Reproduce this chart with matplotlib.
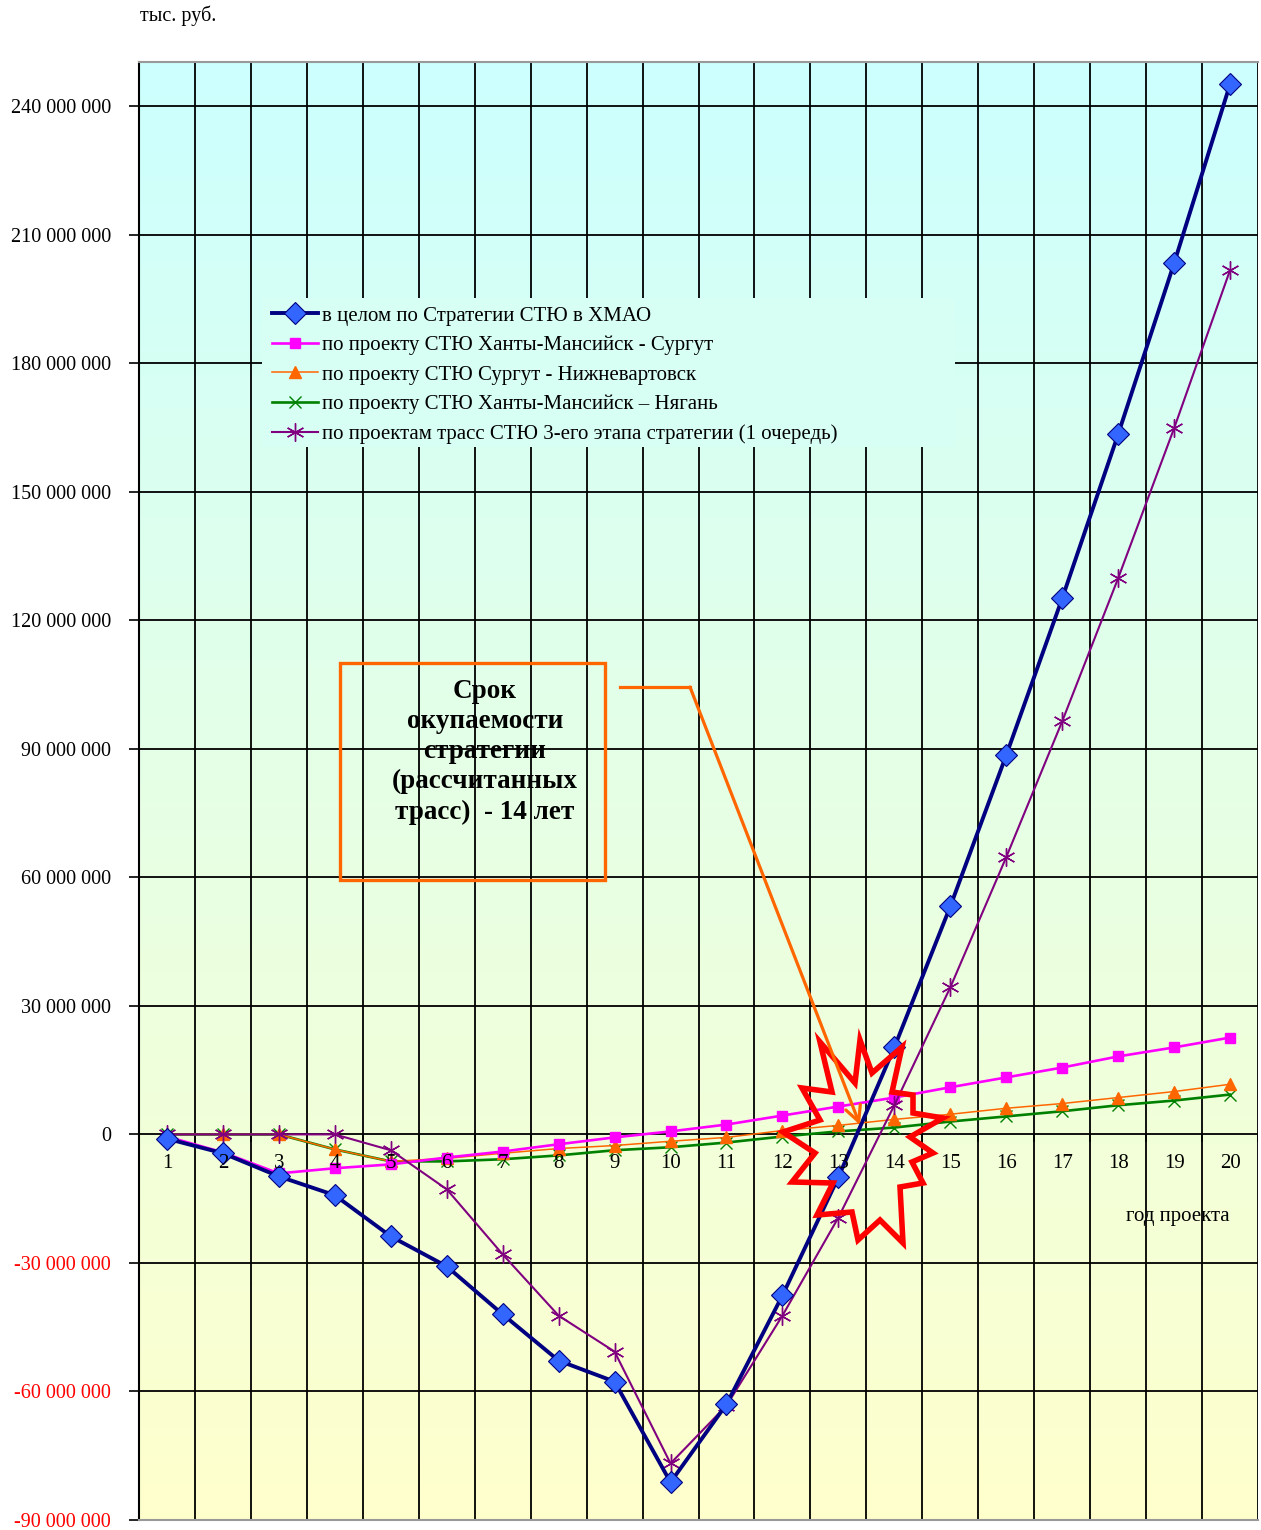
import matplotlib.pyplot as plt
import numpy as np
from matplotlib.patches import Rectangle, Polygon

plt.rcParams['font.family'] = ['Liberation Serif', 'DejaVu Serif']

years = list(range(1, 21))

# накопленный денежный поток, млн (тыс. руб. / 1e6 на оси)
total = [-1.0, -4.4, -9.8, -14.2, -23.8, -30.8, -42.0, -52.8, -57.7, -81.2,
         -63.0, -37.6, -10.0, 20.3, 53.2, 88.5, 125.1, 163.4, 203.3, 245.1]
hm_surgut = [-0.5, -4.2, -9.1, -7.9, -7.0, -5.4, -4.0, -2.3, -0.7, 0.7,
             2.3, 4.4, 6.5, 8.6, 11.0, 13.3, 15.6, 18.2, 20.3, 22.6]
surgut_nv = [0.0, 0.0, 0.0, -3.5, -6.3, -5.6, -4.4, -3.3, -2.6, -1.6,
             -0.7, 0.9, 2.1, 3.5, 4.7, 6.1, 7.2, 8.6, 10.0, 11.7]
hm_nyagan = [0.0, 0.0, 0.0, -3.5, -6.3, -6.3, -5.8, -4.9, -3.7, -3.0,
             -1.9, -0.5, 0.7, 1.6, 3.0, 4.2, 5.4, 6.8, 7.9, 9.3]
stage3 = [0.0, 0.0, 0.0, 0.0, -3.7, -12.8, -28.0, -42.3, -50.7, -76.8,
          -63.3, -42.3, -19.4, 6.8, 34.3, 64.7, 96.4, 129.8, 164.8, 201.7]

labels = ['в целом по Стратегии СТЮ в ХМАО',
          'по проекту СТЮ Ханты-Мансийск - Сургут',
          'по проекту СТЮ Сургут - Нижневартовск',
          'по проекту СТЮ Ханты-Мансийск – Нягань',
          'по проектам трасс СТЮ 3-его этапа стратегии (1 очередь)']

y_ticks = [-90, -60, -30, 0, 30, 60, 90, 120, 150, 180, 210, 240]

# figure in pixels, plot area box
W, H = 1261, 1530
L, R, T, B = 139, 1258, 62, 1520

fig = plt.figure(figsize=(W / 100, H / 100), dpi=100)
ax = fig.add_axes([L / W, (H - B) / H, (R - L) / W, (B - T) / H])


def frac(px, py):
    return (px - L) / (R - L), (B - py) / (B - T)


# background: cyan at top fading to pale yellow at the bottom
top_c = np.array([204, 255, 255]) / 255
bot_c = np.array([255, 255, 204]) / 255
t = np.linspace(0, 1, 256)[:, None]
grad = (top_c * (1 - t) + bot_c * t)[:, None, :]
ax.imshow(grad, extent=(0, 1, 0, 1), transform=ax.transAxes,
          aspect='auto', zorder=0)

M = 1e6
ax.plot(years, np.array(total) * M, color='#000080', lw=2.8, marker='D',
        ms=11, mfc='#3366FF', mec='#000080', mew=0.8, zorder=6, label=labels[0])
ax.plot(years, np.array(hm_surgut) * M, color='#FF00FF', lw=1.9, marker='s',
        ms=7, mfc='#FF00FF', mec='#FF00FF', zorder=5, label=labels[1])
ax.plot(years, np.array(surgut_nv) * M, color='#FF6600', lw=1.1, marker='^',
        ms=8, mfc='#FF6600', mec='#FF6600', zorder=4, label=labels[2])
ax.plot(years, np.array(hm_nyagan) * M, color='#008000', lw=1.9, marker='x',
        ms=9, mew=1.0, zorder=3, label=labels[3])
ax.plot(years, np.array(stage3) * M, color='#800080', lw=1.5, marker=(6, 2, 0),
        ms=13, mew=1.0, zorder=5, label=labels[4])

ax.set_xlim(0.5, 20.5)
ax.set_ylim(-90 * M, 250.3 * M)

# grid: horizontal at y ticks, vertical between the years
ax.set_yticks([v * M for v in y_ticks])
ax.set_yticklabels([f'{v * 1000000:,}'.replace(',', ' ') for v in y_ticks],
                   fontsize=14.5)
for lab, v in zip(ax.get_yticklabels(), y_ticks):
    lab.set_color('red' if v < 0 else 'black')
ax.tick_params(axis='y', length=7, width=1.2, pad=13)
for v in y_ticks:
    ax.axhline(v * M, color='black', lw=1.3, zorder=1)
for xb in np.arange(0.5, 21, 1):
    ax.axvline(xb, color='black', lw=1.3, zorder=1)
ax.set_xticks([])

# year labels and small ticks along the zero line
for y in years:
    ax.annotate(str(y), (y, 0), xytext=(0, -29), textcoords='offset pixels',
                ha='center', va='center', fontsize=15, zorder=7)
for xb in np.arange(0.5, 21, 1):
    ax.plot([xb, xb], [0, -1.6 * M], color='black', lw=1.2, zorder=1)

for side in ['top', 'bottom']:
    ax.spines[side].set_color('#999999')
    ax.spines[side].set_linewidth(1.5)
ax.spines['left'].set_linewidth(1.5)
ax.spines['right'].set_visible(False)

# legend sits on a patch of background that hides the grid
lx0, ly0 = frac(262, 447)
lx1, ly1 = frac(955, 298)
mix = 1 - (ly0 + ly1) / 2
leg_c = top_c * (1 - mix) + bot_c * mix
ax.add_patch(Rectangle((lx0, ly0), lx1 - lx0, ly1 - ly0, transform=ax.transAxes,
                       facecolor=leg_c, edgecolor='none', zorder=1.5))
ax.legend(loc='upper left', bbox_to_anchor=frac(272, 306), frameon=False,
          fontsize=15, handlelength=2.2, handletextpad=0.2, labelspacing=0.48,
          borderpad=0, borderaxespad=0)

# payback annotation
bx0, by0 = frac(340, 880)
bx1, by1 = frac(605, 663)
ax.add_patch(Rectangle((bx0, by0), bx1 - bx0, by1 - by0, transform=ax.transAxes,
                       facecolor='none', edgecolor='#FF6600', lw=2.4, zorder=8))
ax.text(*frac(485, 752), 'Срок\nокупаемости\nстратегии\n(рассчитанных\nтрасс)  - 14 лет',
        transform=ax.transAxes, ha='center', va='center', fontsize=19.5,
        fontweight='bold', linespacing=1.26, zorder=8)

star_px = [(820, 1042), (855, 1083), (860, 1040), (872, 1073), (902, 1047),
           (892, 1092), (913, 1095), (913, 1113), (943, 1118), (910, 1137),
           (933, 1153), (912, 1162), (923, 1183), (900, 1187), (903, 1243),
           (880, 1220), (858, 1240), (852, 1212), (817, 1215), (833, 1183),
           (792, 1182), (815, 1153), (783, 1132), (820, 1120), (802, 1088),
           (832, 1092)]
ax.add_patch(Polygon([frac(*p) for p in star_px], closed=True,
                     transform=ax.transAxes, facecolor='none',
                     edgecolor='#FF0000', lw=4, joinstyle='miter', zorder=8))

p0, p1, p2 = frac(620, 687), frac(690, 687), frac(860, 1125)
ax.plot([p0[0], p1[0]], [p0[1], p1[1]], transform=ax.transAxes,
        color='#FF6600', lw=2.3, zorder=8)
ax.annotate('', xy=p2, xytext=p1, xycoords='axes fraction',
            arrowprops=dict(arrowstyle='->', color='#FF6600', lw=2.3,
                            mutation_scale=28, shrinkA=0, shrinkB=0), zorder=8)

fig.text(140 / W, 1 - 16 / H, 'тыс. руб.', ha='left', va='center', fontsize=14.5)
ax.text(*frac(1178, 1217), 'год проекта', transform=ax.transAxes,
        ha='center', va='center', fontsize=15, zorder=7)

fig.savefig('out.png', dpi=100)
